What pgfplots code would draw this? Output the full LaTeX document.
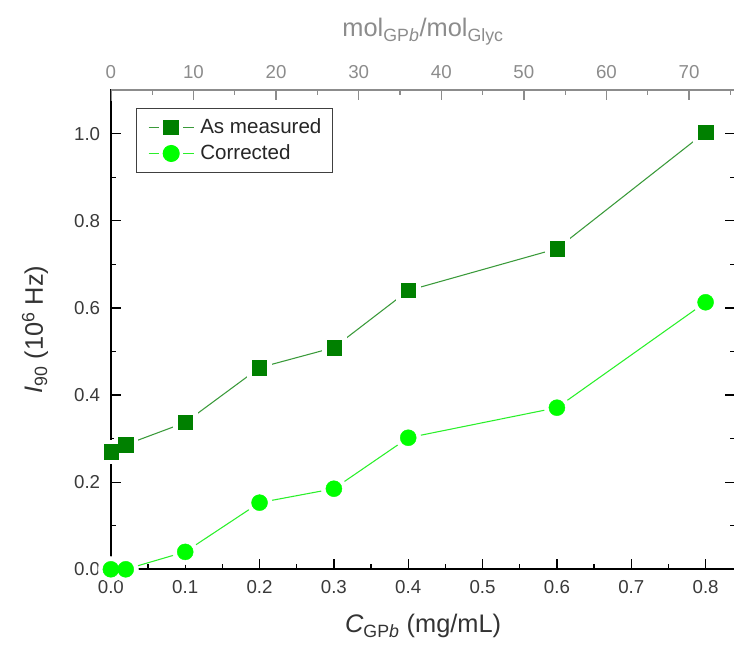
\documentclass[border=0pt]{standalone}
\usepackage{fontspec}
\setmainfont{Liberation Sans}
\usepackage{pgfplots}
\usepackage{pgfplotstable}
\pgfplotsset{compat=1.18}

\definecolor{measured}{HTML}{008000}
\definecolor{measuredline}{HTML}{3A9A3A}
\definecolor{corrected}{HTML}{00FF00}
\definecolor{correctedline}{HTML}{2AF02A}
\definecolor{ticktext}{HTML}{3A3A3A}
\definecolor{labeltext}{HTML}{333333}
\definecolor{topaxis}{HTML}{8C8C8C}
\definecolor{legendframe}{HTML}{404040}

% scattered light intensity vs. GPb concentration
\pgfplotstableread{
x y
0.00 0.270
0.02 0.286
0.10 0.337
0.20 0.463
0.30 0.509
0.40 0.640
0.60 0.736
0.80 1.004
}\measuredtab
\pgfplotstableread{
x y
0.00 0.000
0.02 0.000
0.10 0.040
0.20 0.153
0.30 0.185
0.40 0.302
0.60 0.371
0.80 0.613
}\correctedtab

\pgfplotsset{set layers}

\begin{document}
\begin{tikzpicture}
\begin{axis}[
  name=main,
  width=467.5pt, height=358.7pt, scale only axis,
  xmin=0, xmax=0.84, ymin=0, ymax=1.1,
  axis line style={black, line width=1.2pt},
  xtick={0,0.1,...,0.8}, minor xtick={0.05,0.15,...,0.75},
  ytick={0,0.2,...,1.0}, minor ytick={0.1,0.3,...,0.9},
  xtick pos=bottom, ytick pos=both,
  tick align=inside,
  major tick length=7.5pt, minor tick length=3.75pt,
  every tick/.style={black, line width=1pt},
  tick label style={font=\fontsize{14}{16}\selectfont, text=ticktext},
  /pgf/number format/assume math mode=true,
  xticklabel style={/pgf/number format/.cd, fixed, fixed zerofill, precision=1},
  yticklabel style={/pgf/number format/.cd, fixed, fixed zerofill, precision=1},
  xticklabel shift=5pt, yticklabel shift=4.5pt,
  xlabel={\textit{C}\textsubscript{GP\textit{b}} (mg/mL)},
  ylabel={\textit{I}\textsubscript{90} (10\textsuperscript{6} Hz)},
  every axis x label/.style={at={([yshift=-42.7pt]axis description cs:0.5,0)}, anchor=center,
    font=\fontsize{19}{22}\selectfont, text=labeltext},
  every axis y label/.style={at={([xshift=-56.8pt]axis description cs:0,0.5)}, anchor=center, rotate=90,
    font=\fontsize{19}{22}\selectfont, text=labeltext},
  legend style={
    at={([xshift=19pt, yshift=-13.5pt]axis description cs:0,1)}, anchor=north west,
    draw=legendframe, line width=0.75pt, fill=white,
    font=\fontsize{15.4}{18}\selectfont, text=black!85,
    inner xsep=8.5pt, inner ysep=7.5pt, row sep=7pt,
    nodes={inner sep=0pt},
    /tikz/every odd column/.append style={column sep=4.5pt},
  },
  legend cell align=left,
]
% connecting lines, cut back around each marker
\addplot[measuredline, line width=0.8pt, no marks, on layer=axis background, forget plot] table {\measuredtab};
\addplot[correctedline, line width=0.8pt, no marks, on layer=axis background, forget plot] table {\correctedtab};
\addplot[white, only marks, mark=square*, mark size=8.9pt, mark options={draw=white, fill=white}, on layer=axis background, forget plot] table {\measuredtab};
\addplot[white, only marks, mark=*, mark size=9.5pt, mark options={draw=white, fill=white}, on layer=axis background, forget plot] table {\correctedtab};
% markers
\addplot[measured, only marks, mark=square*, mark size=5.35pt, mark options={draw=measured, fill=measured, line width=0.3pt}, forget plot] table {\measuredtab};
\addplot[corrected, only marks, mark=*, mark size=6pt, mark options={draw=corrected, fill=corrected, line width=0.3pt}, forget plot] table {\correctedtab};
\addlegendimage{legend image code/.code={
  \draw[measuredline, line width=0.8pt] (0pt,0pt) -- (8pt,0pt);
  \draw[measuredline, line width=0.8pt] (25.8pt,0pt) -- (33.75pt,0pt);
  \fill[measured] (11.5pt,-5.35pt) rectangle (22.2pt,5.35pt);
}}
\addlegendentry{As measured}
\addlegendimage{legend image code/.code={
  \draw[correctedline, line width=0.8pt] (0pt,0pt) -- (8pt,0pt);
  \draw[correctedline, line width=0.8pt] (25.8pt,0pt) -- (33.75pt,0pt);
  \fill[corrected] (16.9pt,0pt) circle (6pt);
}}
\addlegendentry{Corrected}
\draw[topaxis, line width=1.2pt] (axis cs:0,1.075) -- (axis cs:0,1.1);
\end{axis}
% molar ratio scale along the top (72 mol/mol at 0.8 mg/mL)
\begin{axis}[
  width=467.5pt, height=358.7pt, scale only axis,
  xmin=0, xmax=75.6, ymin=0, ymax=1.1,
  axis x line*=top, axis y line=none,
  axis line style={topaxis, line width=1.4pt},
  xtick={0,10,...,70}, minor xtick={5,15,...,75},
  tick align=inside,
  major tick length=7.5pt, minor tick length=3.75pt,
  every tick/.style={topaxis, line width=1pt},
  tick label style={font=\fontsize{14}{16}\selectfont, text=topaxis},
  /pgf/number format/assume math mode=true,
  xticklabel shift=5pt,
  xlabel={mol\textsubscript{GP\textit{b}}/mol\textsubscript{Glyc}},
  every axis x label/.style={at={([yshift=43.5pt]axis description cs:0.5,1)}, anchor=center,
    font=\fontsize{19}{22}\selectfont, text=topaxis},
]
\end{axis}
\pgfresetboundingbox
\path[use as bounding box] ([xshift=-83pt, yshift=-56.8pt]main.south west) rectangle ([xshift=-1pt, yshift=67.5pt]main.north east);
\end{tikzpicture}
\end{document}
